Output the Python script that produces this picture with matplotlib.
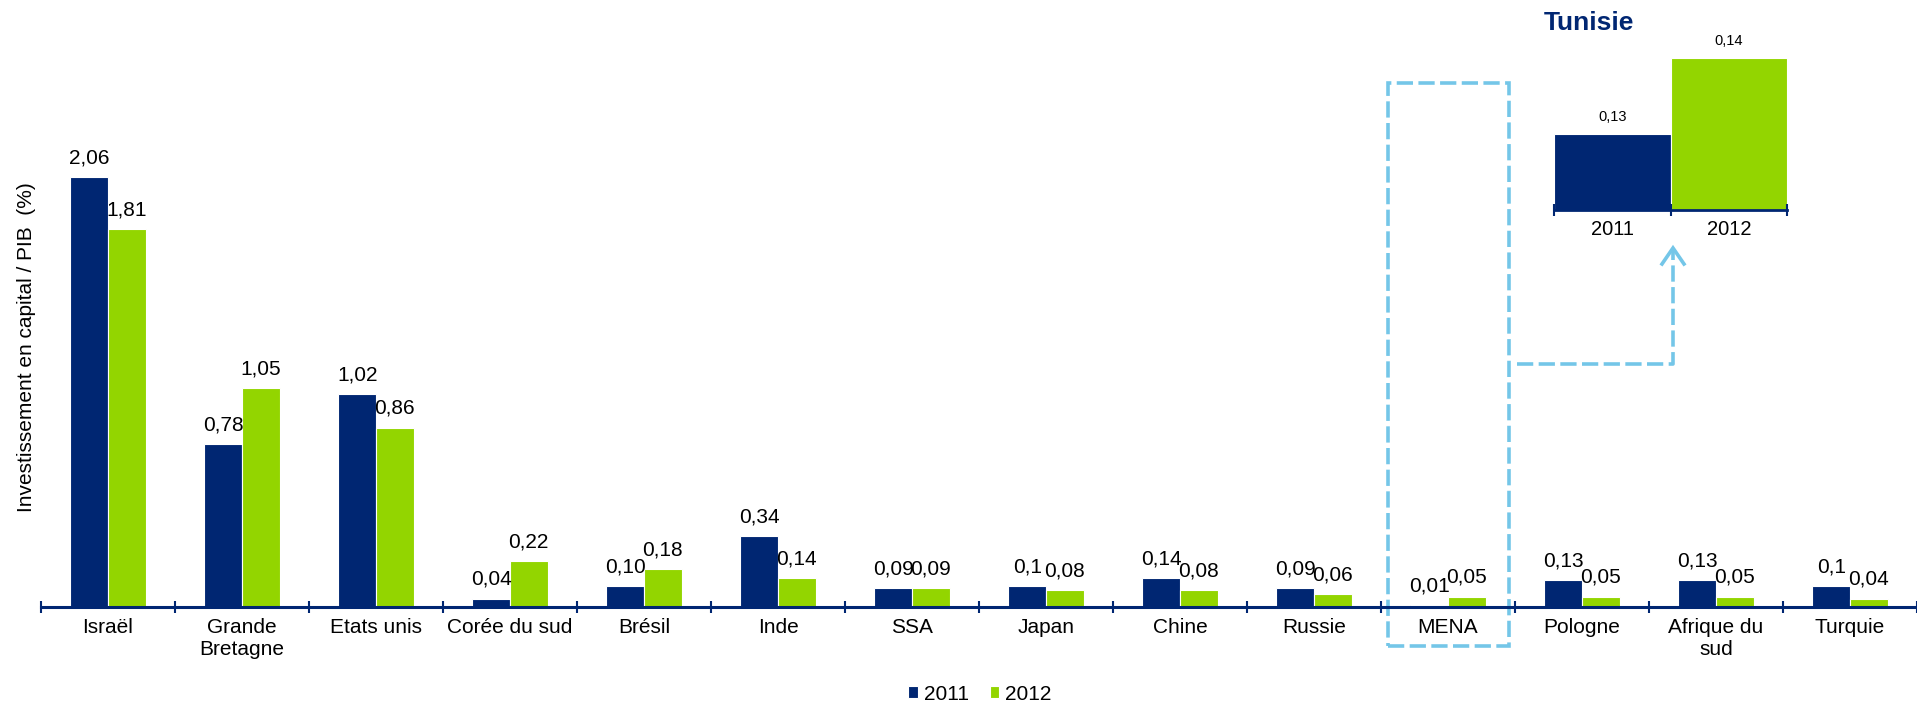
import matplotlib
matplotlib.use("Agg")
import matplotlib.pyplot as plt
from matplotlib.patches import Rectangle
from matplotlib.lines import Line2D

plt.rcParams['font.family'] = ['Liberation Sans', 'DejaVu Sans']

# Data
countries = ["Israël", "Grande\nBretagne", "Etats unis", "Corée du sud", "Brésil",
             "Inde", "SSA", "Japan", "Chine", "Russie", "MENA", "Pologne",
             "Afrique du\nsud", "Turquie"]
vals_2011 = [2.06, 0.78, 1.02, 0.04, 0.10, 0.34, 0.09, 0.10, 0.14, 0.09, 0.01, 0.13, 0.13, 0.10]
vals_2012 = [1.81, 1.05, 0.86, 0.22, 0.18, 0.14, 0.09, 0.08, 0.08, 0.06, 0.05, 0.05, 0.05, 0.04]
labels_2011 = ["2,06", "0,78", "1,02", "0,04", "0,10", "0,34", "0,09", "0,1", "0,14",
               "0,09", "0,01", "0,13", "0,13", "0,1"]
labels_2012 = ["1,81", "1,05", "0,86", "0,22", "0,18", "0,14", "0,09", "0,08", "0,08",
               "0,06", "0,05", "0,05", "0,05", "0,04"]

tunisie_years = ["2011", "2012"]
tunisie_vals = [0.13, 0.14]
tunisie_labels = ["0,13", "0,14"]

NAVY = '#002672'
GREEN = '#93D500'
SKY = '#74C6E8'

W, H = 1917, 706
fig = plt.figure(figsize=(W / 100, H / 100), dpi=100)


def fxy(px, py):
    # pixel position -> figure fraction
    return px / W, 1 - py / H


# Main chart
ax = fig.add_axes([41 / W, (H - 607) / H, 1 - 41 / W, 2.3 * 208.7 / H])
x = list(range(len(countries)))
bw = 0.28
ax.bar([i - bw / 2 for i in x], vals_2011, bw, color=NAVY, edgecolor='white', linewidth=0.8, label='2011')
ax.bar([i + bw / 2 for i in x], vals_2012, bw, color=GREEN, edgecolor='white', linewidth=0.8, label='2012')

for i in x:
    ax.annotate(labels_2011[i], (i - bw / 2, vals_2011[i]), xytext=(0, 7), textcoords='offset points',
                ha='center', va='bottom', fontsize=15, color='black')
    ax.annotate(labels_2012[i], (i + bw / 2, vals_2012[i]), xytext=(0, 7), textcoords='offset points',
                ha='center', va='bottom', fontsize=15, color='black')

ax.set_xlim(-0.5, 13.43)
ax.set_ylim(0, 2.3)
for s in ['top', 'right', 'left']:
    ax.spines[s].set_visible(False)
ax.spines['bottom'].set_color(NAVY)
ax.spines['bottom'].set_linewidth(2.2)
ax.set_yticks([])
ax.set_xticks(x)
ax.set_xticklabels(countries, fontsize=15)
ax.tick_params(axis='x', which='major', length=0, pad=8)
ax.set_xticks([i - 0.5 for i in range(len(countries) + 1)], minor=True)
ax.tick_params(axis='x', which='minor', direction='inout', length=9, width=1.5, color=NAVY)

fig.text(*fxy(27, 347), "Investissement en capital / PIB  (%)", rotation=90,
         ha='center', va='center', fontsize=15)

# dashed box around MENA
mena = countries.index("MENA")
ax.add_patch(Rectangle((mena - 0.448, -0.187), 0.906, 2.698, fill=False, edgecolor=SKY,
                       linewidth=2.6, linestyle=(0, (4.5, 1.5)), clip_on=False))

# connector to the inset
cx, cy = zip(fxy(1517, 364), fxy(1673, 364), fxy(1673, 250))
fig.add_artist(Line2D(cx, cy, color=SKY, linewidth=2.6, linestyle=(0, (4.5, 1.5))))
hx, hy = zip(fxy(1662, 264), fxy(1673, 248), fxy(1684, 264))
fig.add_artist(Line2D(hx, hy, color=SKY, linewidth=2.6, solid_joinstyle='miter'))

# Tunisie inset
iax = fig.add_axes([1554 / W, (H - 210) / H, 233 / W, 170 / H])
iax.bar([0, 1], tunisie_vals, 1.0, color=[NAVY, GREEN], edgecolor='white', linewidth=0.8)
for i, v in enumerate(tunisie_vals):
    iax.annotate(tunisie_labels[i], (i, v), xytext=(0, 7), textcoords='offset points',
                 ha='center', va='bottom', fontsize=10.5, annotation_clip=False)
iax.set_xlim(-0.5, 1.5)
iax.set_ylim(0.12, 0.12 + 170 / 7600)
for s in ['top', 'right', 'left']:
    iax.spines[s].set_visible(False)
iax.spines['bottom'].set_color(NAVY)
iax.spines['bottom'].set_linewidth(2.0)
iax.set_yticks([])
iax.set_xticks([0, 1])
iax.set_xticklabels(tunisie_years, fontsize=14.5)
iax.tick_params(axis='x', which='major', length=0, pad=7)
iax.set_xticks([-0.5, 0.5, 1.5], minor=True)
iax.tick_params(axis='x', which='minor', direction='inout', length=8, width=1.5, color=NAVY)

fig.text(*fxy(1589, 23), "Tunisie", ha='center', va='center', fontsize=19,
         fontweight='bold', color=NAVY)

# legend
fig.legend(loc='center', bbox_to_anchor=fxy(980, 694), ncol=2, frameon=False,
           fontsize=15, handlelength=0.45, handleheight=0.45, handletextpad=0.3,
           columnspacing=1.0, borderpad=0, borderaxespad=0)

fig.savefig("out.png", dpi=100)
